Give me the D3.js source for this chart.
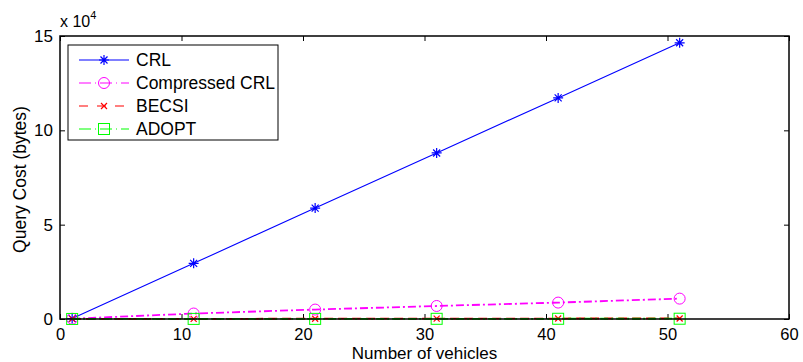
<!DOCTYPE html>
<html><head><meta charset="utf-8">
<script src="https://cdn.jsdelivr.net/npm/d3@7"></script>
<style>body{margin:0;background:#fff;} text{font-family:"Liberation Sans",Arial,sans-serif;}</style>
</head><body>
<svg id="c" width="803" height="362"></svg>
<script>
const vehicles = [1, 11, 21, 31, 41, 51];
const crl = [200, 29500, 58800, 88000, 117200, 146400];
const compressedCrl = [150, 2900, 5000, 6900, 8700, 10800];
const becsi = [40, 80, 150, 190, 250, 280];
const adopt = [20, 50, 70, 100, 120, 150];
const xTicks = [0, 10, 20, 30, 40, 50, 60];
const yTicks = [0, 50000, 100000, 150000];
const yTickLabels = ["0", "5", "10", "15"];

const series = [
  {name: "CRL", values: crl, color: "#0000ff", dash: null, marker: "star"},
  {name: "Compressed CRL", values: compressedCrl, color: "#ff00ff", dash: "8,3,2,3", marker: "circle"},
  {name: "BECSI", values: becsi, color: "#ff0000", dash: "9,5", marker: "x"},
  {name: "ADOPT", values: adopt, color: "#00ff00", dash: "8,3,2,3", marker: "square"}
];

const svg = d3.select("#c");
const L = 60, R = 789, T = 36, B = 319;
const x = d3.scaleLinear().domain([0, 60]).range([L, R]);
const y = d3.scaleLinear().domain([0, 150000]).range([B, T]);

// axes
const g = svg.append("g");
g.append("g").attr("transform", `translate(0,${B})`)
  .call(d3.axisBottom(x).tickValues(xTicks).tickSize(-5).tickPadding(9).tickFormat(d3.format("d")))
  .call(a => { a.select(".domain").remove(); a.selectAll("text").attr("font-size", 16.5).attr("fill","#000"); a.selectAll("line").attr("stroke","#000"); });
g.append("g").attr("transform", `translate(0,${T})`)
  .call(d3.axisTop(x).tickValues(xTicks).tickSize(-5).tickFormat(""))
  .call(a => { a.select(".domain").remove(); a.selectAll("line").attr("stroke","#000"); });
g.append("g").attr("transform", `translate(${L},0)`)
  .call(d3.axisLeft(y).tickValues(yTicks).tickSize(-5).tickPadding(7).tickFormat((d,i) => yTickLabels[i]))
  .call(a => { a.select(".domain").remove(); a.selectAll("text").attr("font-size", 17).attr("fill","#000"); a.selectAll("line").attr("stroke","#000"); });
g.append("g").attr("transform", `translate(${R},0)`)
  .call(d3.axisRight(y).tickValues(yTicks).tickSize(-5).tickFormat(""))
  .call(a => { a.select(".domain").remove(); a.selectAll("line").attr("stroke","#000"); });

function drawMarker(sel, type, color, cx, cy) {
  if (type === "star") {
    const s = 5;
    sel.append("path").attr("d", `M${cx-s},${cy}H${cx+s}M${cx},${cy-s}V${cy+s}M${cx-3.5},${cy-3.5}L${cx+3.5},${cy+3.5}M${cx-3.5},${cy+3.5}L${cx+3.5},${cy-3.5}`)
      .attr("stroke", color).attr("stroke-width", 1.2).attr("fill", "none");
  } else if (type === "circle") {
    sel.append("circle").attr("cx", cx).attr("cy", cy).attr("r", 5.5).attr("fill", "none").attr("stroke", color).attr("stroke-width", 1);
  } else if (type === "x") {
    const s = 3;
    sel.append("path").attr("d", `M${cx-s},${cy-s}L${cx+s},${cy+s}M${cx-s},${cy+s}L${cx+s},${cy-s}`)
      .attr("stroke", color).attr("stroke-width", 1.2).attr("fill", "none");
  } else if (type === "square") {
    sel.append("rect").attr("x", cx-5.5).attr("y", cy-5.5).attr("width", 11).attr("height", 11).attr("fill", "none").attr("stroke", color).attr("stroke-width", 1);
  }
}

const line = d3.line().x((d,i) => x(vehicles[i])).y(d => y(d));
series.forEach(s => {
  const p = svg.append("path").datum(s.values).attr("d", line)
    .attr("fill", "none").attr("stroke", s.color).attr("stroke-width", s.dash ? 1.8 : 1.1);
  if (s.dash) p.attr("stroke-dasharray", s.dash);
  const mg = svg.append("g");
  s.values.forEach((v, i) => drawMarker(mg, s.marker, s.color, x(vehicles[i]), y(v)));
});

// box
svg.append("rect").attr("x", L).attr("y", T).attr("width", R - L).attr("height", B - T)
  .attr("fill", "none").attr("stroke", "#000").attr("stroke-width", 1.5);

// exponent label
const ex = svg.append("text").attr("x", 60).attr("y", 27).attr("font-size", 16).attr("fill", "#000");
ex.append("tspan").text("x 10");
ex.append("tspan").attr("dy", -8).attr("font-size", 11).text("4");

// axis titles
svg.append("text").attr("x", (L + R) / 2).attr("y", 359).attr("text-anchor", "middle").attr("font-size", 17).attr("fill", "#000").text("Number of vehicles");
svg.append("text").attr("transform", `translate(26,${(T + B) / 2 + 2}) rotate(-90)`).attr("text-anchor", "middle").attr("font-size", 17.5).attr("fill", "#000").text("Query Cost (bytes)");

// legend
const lg = svg.append("g");
lg.append("rect").attr("x", 68).attr("y", 45).attr("width", 210).attr("height", 95).attr("fill", "#fff").attr("stroke", "#000").attr("stroke-width", 1);
series.forEach((s, i) => {
  const ly = 60 + i * 23;
  const l = lg.append("line").attr("x1", 79).attr("x2", 129).attr("y1", ly).attr("y2", ly)
    .attr("stroke", s.color).attr("stroke-width", 1.2);
  if (s.dash) l.attr("stroke-dasharray", s.name === "BECSI" ? "9,9" : "12,4,1,4");
  drawMarker(lg, s.marker, s.color, 104, ly);
  lg.append("text").attr("x", 136).attr("y", ly + 6).attr("font-size", 17.5).attr("fill", "#000").text(s.name);
});
</script>
</body></html>
